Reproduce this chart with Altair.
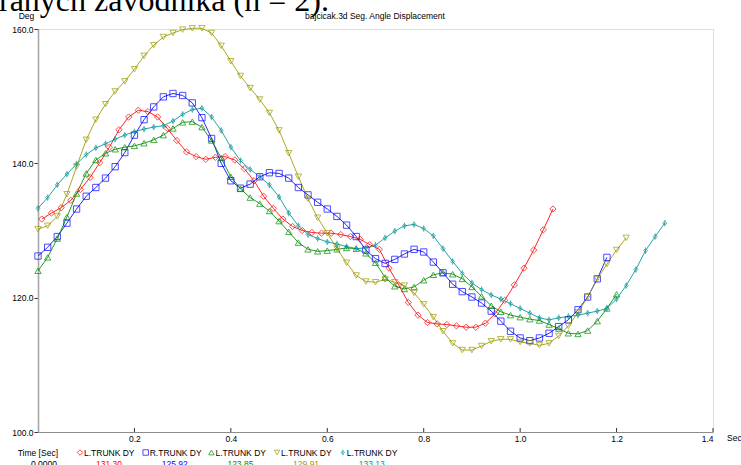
import altair as alt
import pandas as pd

DT = 0.02

series_ids = ["s1", "s2", "s3", "s4", "s5"]
series_labels = ["L.TRUNK DY", "R.TRUNK DY", "L.TRUNK DY", "L.TRUNK DY", "L.TRUNK DY"]
legend_values = ["131.30", "125.92", "123.85", "129.91", "133.13"]
series_start = [0.008, 0.0, 0.0, 0.0, 0.0]

red = [131.7, 132.6, 133.4, 134.5, 136.1, 137.9, 140.1, 142.4, 145.0, 146.9,
       147.9, 147.7, 146.9, 145.2, 143.4, 141.7, 141.0, 140.6, 140.9, 141.0,
       140.5, 139.2, 137.4, 135.1, 133.3, 131.7, 130.6, 130.0, 129.7, 129.6,
       129.6, 129.4, 129.1, 128.7, 127.9, 127.2, 124.4, 121.9, 119.3, 117.4,
       116.3, 116.1, 116.0, 115.8, 115.6, 115.6, 116.2, 117.6, 119.6, 121.9,
       124.4, 127.1, 130.1, 133.2]

blue = [126.2, 127.5, 129.1, 131.1, 133.2, 135.1, 136.4, 137.8, 139.5, 141.6,
        144.2, 146.5, 148.4, 149.9, 150.4, 150.1, 149.0, 146.8, 143.7, 140.0,
        137.4, 136.3, 136.9, 138.0, 138.6, 138.5, 137.8, 136.4, 135.3, 134.2,
        133.2, 132.1, 130.8, 129.1, 127.1, 125.8, 125.1, 125.7, 126.5, 127.2,
        126.8, 125.3, 123.7, 122.0, 120.9, 120.1, 119.2, 118.0, 116.5, 115.0,
        114.0, 113.6, 114.0, 114.7, 115.7, 116.7, 118.2, 120.1, 122.8, 126.0]

green = [124.0, 126.0, 128.8, 132.0, 135.5, 138.5, 140.5, 141.5, 142.1, 142.4,
         142.6, 143.0, 143.5, 144.2, 145.2, 146.1, 146.2, 145.4, 143.4, 140.8,
         138.0, 136.2, 134.9, 134.0, 132.9, 131.4, 129.8, 128.2, 127.2, 126.9,
         127.0, 127.2, 127.4, 127.3, 126.6, 125.2, 123.0, 121.7, 121.3, 121.6,
         122.6, 123.4, 123.7, 123.5, 122.8, 121.6, 120.2, 118.8, 117.9, 117.4,
         117.1, 116.8, 116.6, 116.0, 115.4, 114.7, 114.6, 115.1, 116.5, 118.4,
         120.5]

olive = [130.2, 130.7, 132.1, 135.4, 139.5, 143.5, 146.5, 148.8, 150.7, 152.2,
         154.0, 156.0, 157.6, 158.8, 159.4, 159.9, 160.1, 160.1, 159.4, 157.5,
         155.2, 153.0, 151.2, 149.5, 147.5, 144.9, 141.5, 138.0, 134.7, 131.9,
         129.6, 127.3, 125.2, 123.3, 122.4, 122.3, 122.7, 122.3, 121.8, 120.7,
         119.0, 117.1, 115.0, 113.2, 112.2, 112.2, 112.8, 113.5, 113.8, 113.8,
         113.4, 113.2, 112.9, 113.2, 114.3, 115.8, 117.8, 120.1, 122.8, 125.0,
         127.1, 128.9]

teal = [133.3, 134.9, 136.8, 138.4, 139.9, 141.3, 142.3, 142.9, 143.6, 144.2,
        144.7, 145.1, 145.4, 145.6, 146.3, 147.3, 148.0, 148.2, 146.9, 144.9,
        142.4, 140.4, 139.1, 138.0, 136.8, 135.0, 132.6, 130.7, 129.4, 128.8,
        128.3, 128.0, 127.6, 127.3, 127.4, 127.8, 128.9, 129.9, 130.7, 130.9,
        130.3, 129.2, 127.3, 125.4, 123.6, 122.2, 121.2, 120.4, 119.8, 119.1,
        118.4, 117.7, 117.0, 116.7, 117.0, 117.2, 117.4, 117.7, 118.0, 118.4,
        119.8, 121.8, 124.2, 127.0, 129.1, 131.1]

x_ticks = [0.2, 0.4, 0.6, 0.8, 1.0, 1.2, 1.4]
y_ticks = [100, 120, 140, 160]

colors = ["#FF0000", "#0000FF", "#008A00", "#9A9A00", "#009494"]
teal_shape = "M0,-0.7L0.6,0L0,0.7L-0.6,0Z M0,-1L0,1"
shapes = ["diamond", "square", "triangle-up", "triangle-down", teal_shape]

all_values = [red, blue, green, olive, teal]
rows = []
for sid, t0, vals in zip(series_ids, series_start, all_values):
    for k, v in enumerate(vals):
        rows.append({"sid": sid, "t": round(t0 + k * DT, 4), "v": v})
df = pd.DataFrame(rows)

legend_df = pd.DataFrame({
    "sid": series_ids,
    "label": series_labels,
    "val": legend_values,
    "i": list(range(len(series_ids))),
})

FONT = "Liberation Sans"
FS = 8.5

color_scale = alt.Scale(domain=series_ids, range=colors)
shape_scale = alt.Scale(domain=series_ids, range=shapes)
x_scale = alt.Scale(domain=[0, 1.4], nice=False, zero=False)
y_scale = alt.Scale(domain=[100, 160], nice=False, zero=False)

base = alt.Chart(df).encode(
    x=alt.X("t:Q", scale=x_scale,
            axis=alt.Axis(values=x_ticks, format=".1f", title=None, grid=False,
                          ticks=False, labelPadding=2, labelFont=FONT,
                          labelFontSize=FS, labelColor="#000000",
                          domainColor="#8c8c8c", domainWidth=1.2)),
    y=alt.Y("v:Q", scale=y_scale,
            axis=alt.Axis(values=y_ticks, format=".1f", title=None, grid=False,
                          tickSize=4, tickColor="#333333", labelPadding=1,
                          labelFont=FONT, labelFontSize=FS, labelColor="#000000",
                          domainColor="#a8a8a8", domainWidth=1.6)),
    color=alt.Color("sid:N", scale=color_scale, legend=None),
)

lines = base.mark_line(strokeWidth=1, opacity=0.85)
points = base.mark_point(filled=False, size=40, strokeWidth=1).encode(
    shape=alt.Shape("sid:N", scale=shape_scale, legend=None)
)

xtick_rules = alt.Chart(pd.DataFrame({"t": x_ticks})).mark_rule(
    color="#333333", strokeWidth=1
).encode(x=alt.X("t:Q", scale=x_scale), y=alt.value(399), y2=alt.value(403))

def txt(text, x, y, align="left", size=FS, font=FONT, color="#000000"):
    return alt.Chart(pd.DataFrame({"s": [text]})).mark_text(
        align=align, baseline="alphabetic", font=font, fontSize=size, color=color
    ).encode(text="s:N", x=alt.value(x), y=alt.value(y))

big = txt("raných závodníka (n = 2).", -39, -18, size=32, font="Liberation Serif")
title = txt("bajcicak.3d Seg. Angle Displacement", 337, -10, align="center")
deg = txt("Deg", -11.5, -10, align="center")
sec = txt("Sec", 689, 412)
time_lbl = txt("Time [Sec]", 20, 427, align="right")
time_val = txt("0.0000", 19, 438, align="right")

leg = alt.Chart(legend_df).transform_calculate(
    px="datum.i * 65.7 + 42"
)
leg_sym = leg.mark_point(filled=False, size=30, strokeWidth=1).encode(
    x=alt.X("px:Q", scale=None), y=alt.value(423.5),
    color=alt.Color("sid:N", scale=color_scale, legend=None),
    shape=alt.Shape("sid:N", scale=shape_scale, legend=None),
)
leg_lab = leg.mark_text(align="left", baseline="alphabetic", font=FONT,
                        fontSize=FS, color="#000000", dx=4).encode(
    x=alt.X("px:Q", scale=None), y=alt.value(427), text="label:N"
)
leg_val = leg.mark_text(align="right", baseline="alphabetic", font=FONT,
                        fontSize=FS, dx=42).encode(
    x=alt.X("px:Q", scale=None), y=alt.value(438), text="val:N",
    color=alt.Color("sid:N", scale=color_scale, legend=None),
)

chart = alt.layer(
    lines, points, xtick_rules, big, title, deg, sec, time_lbl, time_val,
    leg_sym, leg_lab, leg_val
).resolve_scale(
    color="shared", shape="shared"
).properties(
    width=675, height=403,
    padding={"left": 38, "top": 29, "right": 28, "bottom": 33},
    autosize=alt.AutoSizeParams(type="none"),
).configure_view(stroke=None).configure(background="#ffffff")

chart.save("out.html", embed_options={"renderer": "svg", "actions": False})
